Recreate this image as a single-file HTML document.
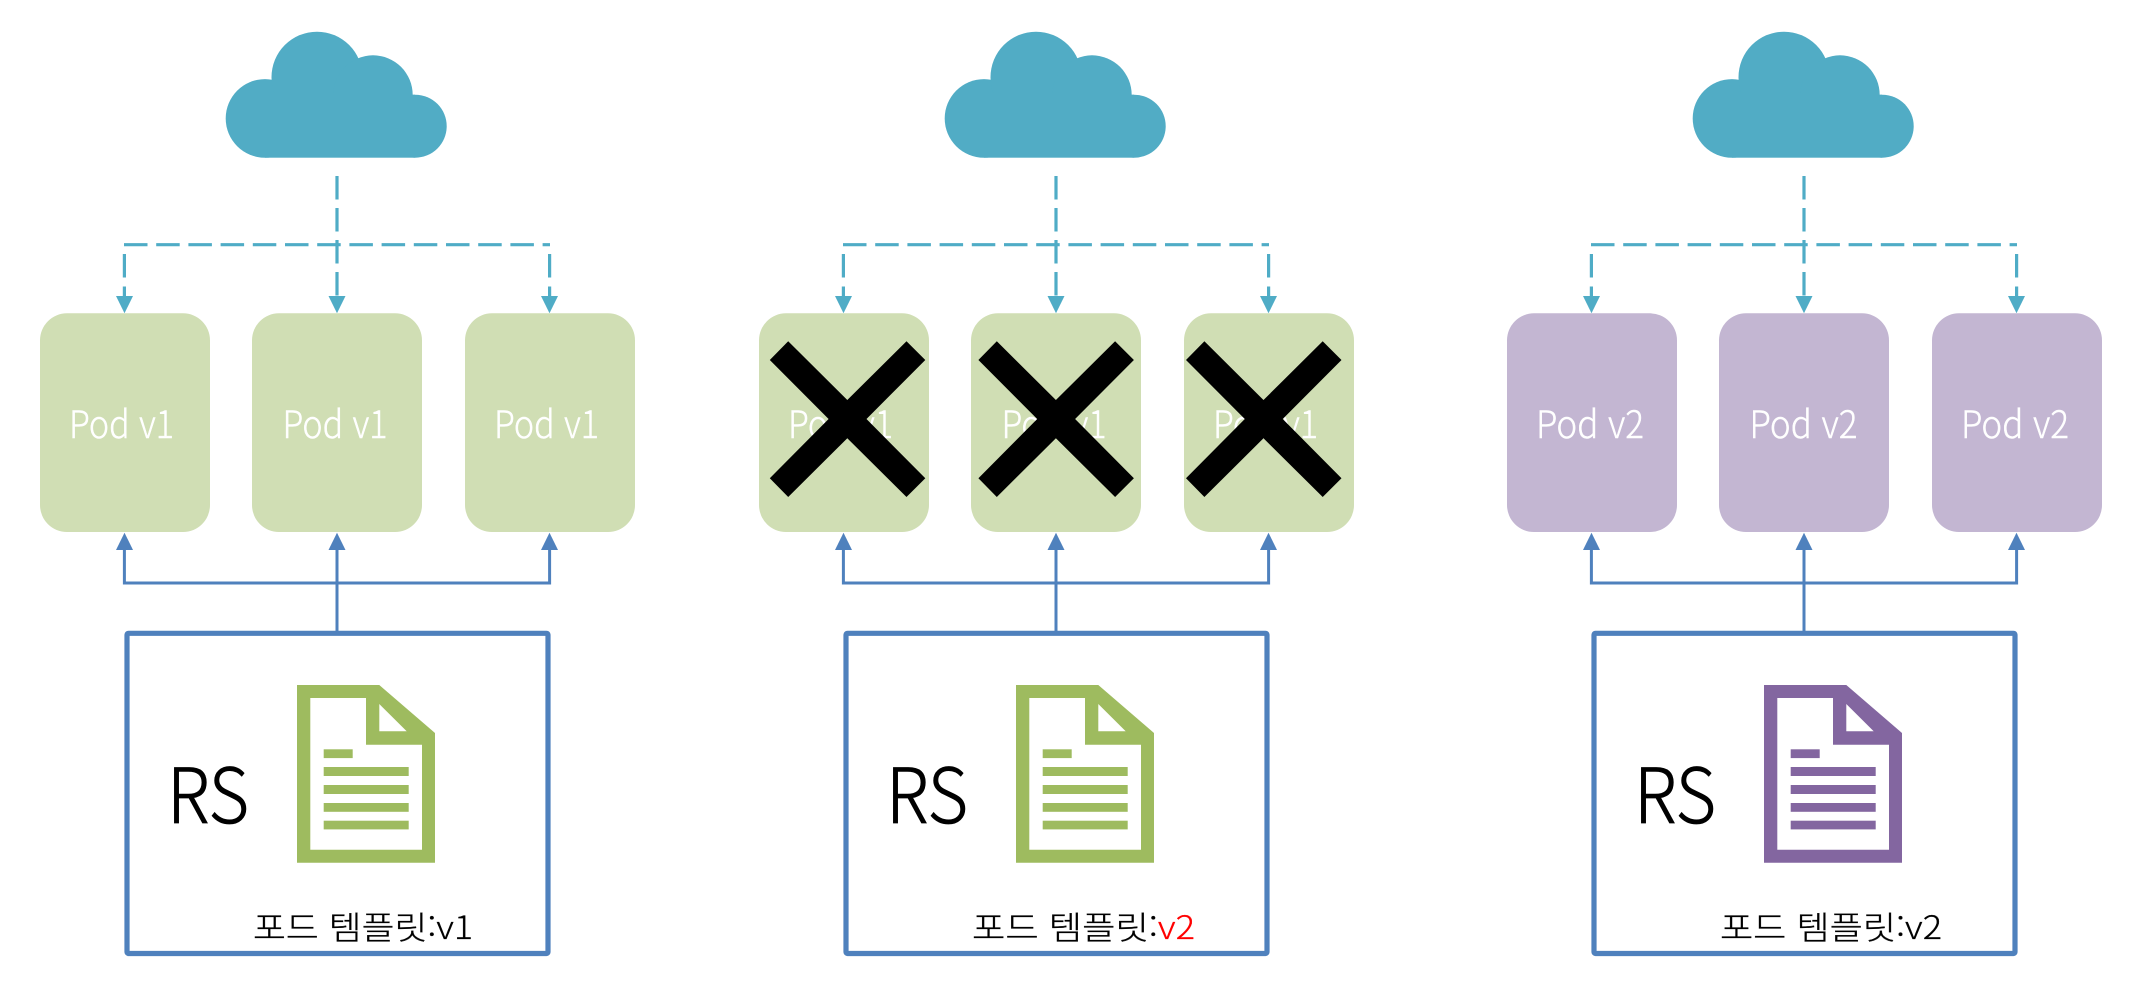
<!DOCTYPE html>
<html lang="ko">
<head>
<meta charset="utf-8">
<title>Rolling update diagram</title>
<style>
html,body{margin:0;padding:0;background:#fff;width:2142px;height:986px;overflow:hidden}
svg{display:block}
.pod{font-family:"Noto Sans CJK KR","Liberation Sans",sans-serif;font-weight:300;font-size:38px;fill:#fff;stroke:#fff;stroke-width:.45px}
.rs{font-family:"Noto Sans CJK KR","Liberation Sans",sans-serif;font-weight:300;font-size:76px;fill:#000;stroke:#000;stroke-width:.8px}
.lb{font-family:"Noto Sans CJK KR","Liberation Sans",sans-serif;font-weight:300;font-size:32px;fill:#000;stroke:#000;stroke-width:.3px}
.lb tspan{stroke:#ff0000}
</style>
</head>
<body>
<svg width="2142" height="986" viewBox="0 0 2142 986" xmlns="http://www.w3.org/2000/svg">
<defs>
  <g id="cloud" fill="#51acc5">
    <circle cx="265" cy="118.4" r="39.3"/>
    <circle cx="317" cy="77.2" r="45.5"/>
    <circle cx="373" cy="95" r="39.7"/>
    <circle cx="415.2" cy="126.2" r="31.5"/>
    <rect x="265" y="94.7" width="150" height="63"/>
  </g>
  <g id="dash" fill="none" stroke="#4facc6" stroke-width="3.2">
    <path d="M337 176V296" stroke-dasharray="23.5 8.5"/>
    <path d="M124 244.7H550" stroke-dasharray="23.5 8.7"/>
    <path d="M124.4 254V296" stroke-dasharray="23.5 9"/>
    <path d="M549.6 254V296" stroke-dasharray="23.5 9"/>
  </g>
  <g id="dashheads" fill="#4facc6">
    <path d="M116 296H133L124.5 313.3Z"/>
    <path d="M328.5 296H345.5L337 313.3Z"/>
    <path d="M541 296H558L549.5 313.3Z"/>
  </g>
  <g id="tree">
    <path d="M337 632V550M124.4 550V583H549.6V550" fill="none" stroke="#4f81bd" stroke-width="3"/>
    <path d="M116 550H133L124.5 532.7Z" fill="#4f81bd"/>
    <path d="M328.5 550H345.5L337 532.7Z" fill="#4f81bd"/>
    <path d="M541 550H558L549.5 532.7Z" fill="#4f81bd"/>
    <rect x="127" y="633.3" width="421" height="320.2" rx="1.5" fill="none" stroke="#4f81bd" stroke-width="5.2"/>
  </g>
  <path id="doc" fill-rule="evenodd" d="M297 685H379.3L435 733V862.7H297ZM310.3 698V849.7H422V744.7H366V698ZM379.3 704V731.3H406.7Z"/>
  <g id="doclines">
    <rect x="323.7" y="749.3" width="29" height="8.8"/>
    <rect x="323.7" y="767" width="85" height="9"/>
    <rect x="323.7" y="785" width="85" height="9"/>
    <rect x="323.7" y="803" width="85" height="8.8"/>
    <rect x="323.7" y="820.7" width="85" height="8.7"/>
  </g>
  <path id="x" d="M18.4 0L77.5 58.7L136.7 0L155.5 18.7L96.7 77.7L155.5 137L136.7 155.7L77.5 97L18.4 155.7L0 137L58.8 77.7L0 18.7Z" fill="#000"/>
</defs>

<!-- Column 1 -->
<g>
  <use href="#cloud"/><use href="#dash"/><use href="#dashheads"/><use href="#tree"/>
  <g fill="#d0deb4">
    <rect x="40" y="313.3" width="170" height="218.7" rx="27"/>
    <rect x="252" y="313.3" width="170" height="218.7" rx="27"/>
    <rect x="465" y="313.3" width="170" height="218.7" rx="27"/>
  </g>
  <text class="pod" x="69" y="438" textLength="105" lengthAdjust="spacingAndGlyphs">Pod v1</text>
  <text class="pod" x="282.5" y="438" textLength="105" lengthAdjust="spacingAndGlyphs">Pod v1</text>
  <text class="pod" x="494" y="438" textLength="105" lengthAdjust="spacingAndGlyphs">Pod v1</text>
  <use href="#doc" fill="#9ebb5f"/><use href="#doclines" fill="#9ebb5f"/>
  <text class="rs" x="167" y="823" textLength="82" lengthAdjust="spacingAndGlyphs">RS</text>
  <text class="lb" x="253" y="939" textLength="220" lengthAdjust="spacingAndGlyphs">포드 템플릿:v1</text>
</g>

<!-- Column 2 -->
<g transform="translate(719 0)">
  <use href="#cloud"/><use href="#dash"/><use href="#dashheads"/><use href="#tree"/>
  <g fill="#d0deb4">
    <rect x="40" y="313.3" width="170" height="218.7" rx="27"/>
    <rect x="252" y="313.3" width="170" height="218.7" rx="27"/>
    <rect x="465" y="313.3" width="170" height="218.7" rx="27"/>
  </g>
  <text class="pod" x="69" y="438" textLength="105" lengthAdjust="spacingAndGlyphs">Pod v1</text>
  <text class="pod" x="282.5" y="438" textLength="105" lengthAdjust="spacingAndGlyphs">Pod v1</text>
  <text class="pod" x="494" y="438" textLength="105" lengthAdjust="spacingAndGlyphs">Pod v1</text>
  <use href="#doc" fill="#9ebb5f"/><use href="#doclines" fill="#9ebb5f"/>
  <text class="rs" x="167" y="823" textLength="82" lengthAdjust="spacingAndGlyphs">RS</text>
  <text class="lb" x="253" y="939" textLength="223" lengthAdjust="spacingAndGlyphs">포드 템플릿:<tspan fill="#ff0000">v2</tspan></text>
</g>
<use href="#x" x="769.8" y="341.3"/>
<use href="#x" x="978.4" y="341.3"/>
<use href="#x" x="1186" y="341.3"/>

<!-- Column 3 -->
<g transform="translate(1467 0)">
  <use href="#cloud"/><use href="#dash"/><use href="#dashheads"/><use href="#tree"/>
  <g fill="#c3b6d2">
    <rect x="40" y="313.3" width="170" height="218.7" rx="27"/>
    <rect x="252" y="313.3" width="170" height="218.7" rx="27"/>
    <rect x="465" y="313.3" width="170" height="218.7" rx="27"/>
  </g>
  <text class="pod" x="69" y="438" textLength="108" lengthAdjust="spacingAndGlyphs">Pod v2</text>
  <text class="pod" x="282.5" y="438" textLength="108" lengthAdjust="spacingAndGlyphs">Pod v2</text>
  <text class="pod" x="494" y="438" textLength="108" lengthAdjust="spacingAndGlyphs">Pod v2</text>
  <use href="#doc" fill="#8366a0"/><use href="#doclines" fill="#8366a0"/>
  <text class="rs" x="167" y="823" textLength="82" lengthAdjust="spacingAndGlyphs">RS</text>
  <text class="lb" x="253" y="939" textLength="222" lengthAdjust="spacingAndGlyphs">포드 템플릿:v2</text>
</g>
</svg>
</body>
</html>
